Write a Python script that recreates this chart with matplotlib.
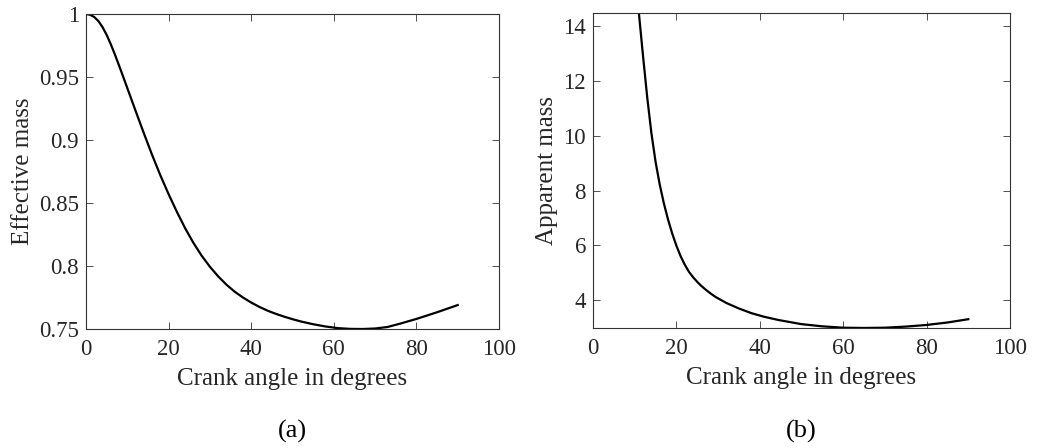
import numpy as np
import matplotlib
matplotlib.use("Agg")
import matplotlib.pyplot as plt

# effective mass vs crank angle (panel a)
angle_a = [0, 1, 2, 3, 4, 5, 6, 7, 8, 9, 10, 12, 14, 16, 18, 20, 22, 24, 26, 28,
           30, 32, 34, 36, 38, 40, 42, 44, 46, 48, 50, 52, 55, 58, 61, 64, 67,
           70, 73, 76, 80, 85, 90]
eff_mass = [1.000, 0.9994, 0.9976, 0.9944, 0.9896, 0.9834, 0.9760, 0.9678,
            0.9591, 0.9502, 0.9412, 0.9232, 0.9054, 0.8882, 0.8720, 0.8570,
            0.8430, 0.8300, 0.8184, 0.8082, 0.7994, 0.7918, 0.7852, 0.7796,
            0.7750, 0.7710, 0.7675, 0.7645, 0.7620, 0.7598, 0.7578, 0.7560,
            0.7538, 0.7520, 0.7507, 0.7501, 0.7500, 0.7504, 0.7516, 0.7542,
            0.7580, 0.7633, 0.7690]

# apparent mass vs crank angle (panel b)
angle_b = [10.5, 11, 12, 13, 14, 15, 16, 17, 18, 19, 20, 21, 22, 23, 24, 25, 26,
           27, 28, 29.4, 32, 35, 38, 41, 44.5, 50, 55, 60, 65, 70, 75, 80, 85, 90]
app_mass = [15.3, 14.47, 12.9, 11.4, 10.1, 9.05, 8.22, 7.53, 6.94, 6.43, 5.99,
            5.61, 5.30, 5.04, 4.84, 4.67, 4.52, 4.39, 4.27, 4.12, 3.90, 3.70,
            3.53, 3.40, 3.28, 3.13, 3.05, 3.00, 2.99, 3.00, 3.04, 3.10, 3.19, 3.31]

plt.rcParams['font.family'] = ['Liberation Serif', 'DejaVu Serif']
txt = '#262626'
fig = plt.figure(figsize=(10.49, 4.48), dpi=100)

def style(ax):
    for s in ax.spines.values():
        s.set_color('#333333')
        s.set_linewidth(0.8)
    ax.tick_params(direction='in', length=5, width=0.6, top=True, right=True,
                   colors='#333333', labelcolor=txt, labelsize=16.5)
    ax.tick_params(axis='x', pad=7)
    ax.tick_params(axis='y', pad=5)

ax1 = fig.add_axes([0.082, 0.2656, 0.3937, 0.7031])
ax1.plot(angle_a, eff_mass, color='black', lw=1.6, solid_joinstyle='round')
ax1.set_xlim(0, 100)
ax1.set_ylim(0.75, 1)
ax1.set_xticks([0, 20, 40, 60, 80, 100])
ax1.set_yticks([0.75, 0.8, 0.85, 0.9, 0.95, 1])
ax1.set_yticklabels(['0.75', '0.8', '0.85', '0.9', '0.95', '1'])
ax1.set_xlabel('Crank angle in degrees', color=txt, fontsize=18, labelpad=6)
ax1.set_ylabel('Effective mass', color=txt, fontsize=18, labelpad=4)
style(ax1)

ax2 = fig.add_axes([0.5653, 0.2679, 0.3975, 0.7031])
ax2.plot(angle_b, app_mass, color='black', lw=1.6, solid_joinstyle='round')
ax2.set_xlim(0, 100)
ax2.set_ylim(2.99, 14.47)
ax2.set_xticks([0, 20, 40, 60, 80, 100])
ax2.set_yticks([4, 6, 8, 10, 12, 14])
ax2.set_xlabel('Crank angle in degrees', color=txt, fontsize=18, labelpad=6)
ax2.set_ylabel('Apparent mass', color=txt, fontsize=18, labelpad=4)
style(ax2)

fig.text(0.2789, 0.038, '(a)', ha='center', va='center', fontsize=19, color='black')
fig.text(0.7641, 0.038, '(b)', ha='center', va='center', fontsize=19, color='black')

plt.savefig('out.png', dpi=100)
